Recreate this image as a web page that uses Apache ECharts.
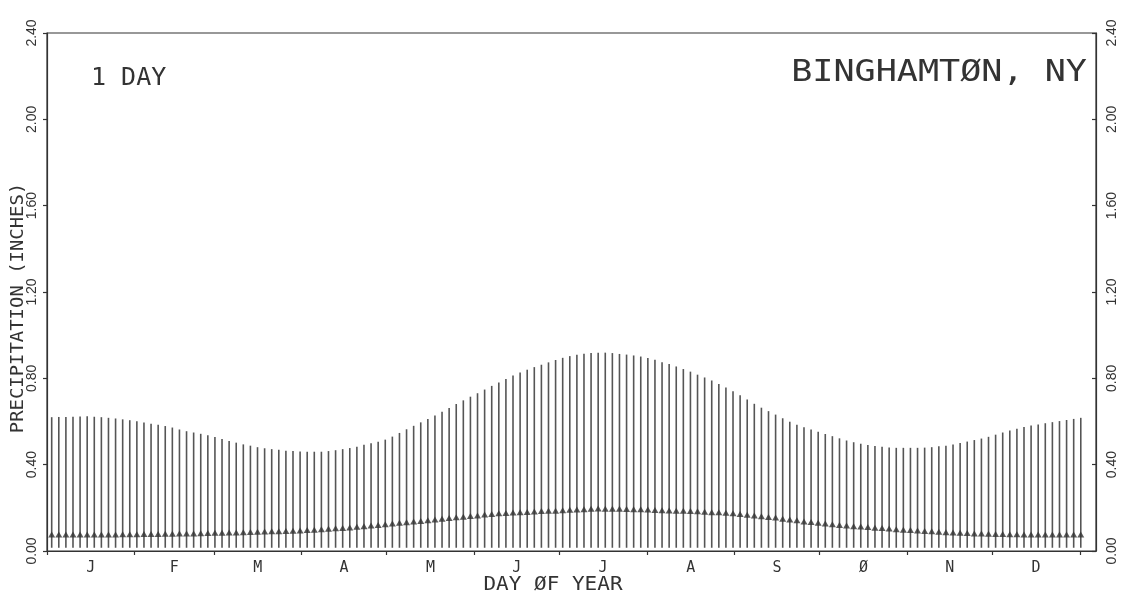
<!DOCTYPE html>
<html>
<head>
<meta charset="utf-8">
<script src="https://cdn.jsdelivr.net/npm/echarts@6/dist/echarts.min.js"></script>
<style>
  html, body { margin: 0; padding: 0; background: #fff; }
  #chart { width: 1125px; height: 601px; }
</style>
</head>
<body>
<div id="chart"></div>
<script>
// month boundaries (day of year) and labels
var monthStarts = [0, 31, 59, 90, 120, 151, 181, 212, 243, 273, 304, 334, 365];
var monthLabels = ['J', 'F', 'M', 'A', 'M', 'J', 'J', 'A', 'S', 'Ø', 'N', 'D'];
var yTicks = [0, 0.4, 0.8, 1.2, 1.6, 2.0, 2.4];

// one vertical line every ~2.5 days, starting early Jan
var firstDay = 1.66;
var dayStep = 2.508;
var lineBottom = 0.015;

// top of each line (inches)
var topInches = [
  0.620, 0.621, 0.621, 0.622, 0.623, 0.624, 0.622, 0.620, 0.617, 0.614,
  0.610, 0.606, 0.601, 0.595, 0.590, 0.585, 0.579, 0.572, 0.563, 0.555,
  0.549, 0.543, 0.536, 0.528, 0.519, 0.510, 0.502, 0.494, 0.488, 0.481,
  0.476, 0.472, 0.469, 0.465, 0.463, 0.461, 0.460, 0.460, 0.460, 0.463,
  0.467, 0.472, 0.477, 0.483, 0.492, 0.499, 0.506, 0.516, 0.530, 0.547,
  0.564, 0.580, 0.596, 0.612, 0.628, 0.645, 0.663, 0.681, 0.698, 0.715,
  0.731, 0.748, 0.765, 0.781, 0.797, 0.813, 0.827, 0.840, 0.852, 0.863,
  0.874, 0.885, 0.895, 0.903, 0.909, 0.914, 0.917, 0.919, 0.919, 0.917,
  0.913, 0.910, 0.906, 0.901, 0.894, 0.886, 0.875, 0.866, 0.855, 0.843,
  0.831, 0.817, 0.804, 0.790, 0.774, 0.758, 0.740, 0.722, 0.702, 0.682,
  0.664, 0.648, 0.632, 0.615, 0.599, 0.585, 0.573, 0.563, 0.552, 0.542,
  0.532, 0.522, 0.512, 0.504, 0.497, 0.491, 0.486, 0.483, 0.480, 0.478,
  0.478, 0.478, 0.478, 0.479, 0.481, 0.485, 0.488, 0.494, 0.500, 0.507,
  0.514, 0.521, 0.529, 0.539, 0.549, 0.558, 0.566, 0.574, 0.581, 0.586,
  0.592, 0.597, 0.602, 0.607, 0.612, 0.617
];

// marker on each line (inches)
var dotInches = [
  0.076, 0.076, 0.076, 0.076, 0.076, 0.076, 0.076, 0.076, 0.076, 0.077,
  0.078, 0.078, 0.078, 0.079, 0.079, 0.079, 0.080, 0.080, 0.081, 0.081,
  0.081, 0.082, 0.083, 0.084, 0.085, 0.086, 0.086, 0.087, 0.088, 0.089,
  0.090, 0.091, 0.092, 0.093, 0.094, 0.095, 0.097, 0.099, 0.101, 0.103,
  0.105, 0.107, 0.109, 0.112, 0.115, 0.118, 0.121, 0.124, 0.127, 0.131,
  0.133, 0.137, 0.139, 0.143, 0.146, 0.150, 0.153, 0.156, 0.159, 0.162,
  0.165, 0.169, 0.172, 0.175, 0.176, 0.178, 0.180, 0.181, 0.183, 0.185,
  0.186, 0.187, 0.189, 0.191, 0.192, 0.194, 0.196, 0.197, 0.196, 0.196,
  0.196, 0.195, 0.194, 0.193, 0.192, 0.190, 0.189, 0.188, 0.187, 0.186,
  0.185, 0.184, 0.182, 0.180, 0.179, 0.177, 0.175, 0.171, 0.168, 0.164,
  0.161, 0.157, 0.155, 0.150, 0.146, 0.142, 0.137, 0.134, 0.131, 0.127,
  0.124, 0.120, 0.118, 0.115, 0.113, 0.111, 0.108, 0.106, 0.104, 0.101,
  0.099, 0.097, 0.095, 0.093, 0.091, 0.089, 0.087, 0.086, 0.084, 0.083,
  0.081, 0.081, 0.080, 0.079, 0.079, 0.078, 0.078, 0.077, 0.077, 0.077,
  0.077, 0.076, 0.076, 0.076, 0.076, 0.076
];

var monthMids = []
for (var m = 0; m < 12; m++) {
    monthMids.push((monthStarts[m] + monthStarts[m + 1]) / 2)
}

var lineData = topInches.map(function (v, i) { return [firstDay + i * dayStep, v] })
var dotData = dotInches.map(function (v, i) { return [firstDay + i * dayStep, v] })

var ink = '#333'
var tickFont = 'Liberation Sans'
var plotFont = 'DejaVu Sans Mono'

var chart = echarts.init(document.getElementById('chart'))
chart.setOption({
    backgroundColor: '#fff',
    animation: false,
    grid: {
        left: 47, right: 29, top: 33, bottom: 50,
        show: true,
        borderColor: ink,
        borderWidth: 1.2
    },
    xAxis: {
        type: 'value',
        min: 0,
        max: 370.7,
        splitLine: { show: false },
        axisLine: { show: true, lineStyle: { color: ink, width: 1.2 } },
        axisTick: {
            show: true,
            customValues: monthStarts,
            length: 4,
            lineStyle: { color: ink, width: 1.2 }
        },
        axisLabel: {
            customValues: monthMids,
            margin: 10,
            fontFamily: plotFont,
            fontSize: 15,
            color: ink,
            formatter: function (val) {
                var idx = monthMids.indexOf(val)
                return idx >= 0 ? monthLabels[idx] : ''
            }
        }
    },
    yAxis: [
        {
            type: 'value',
            position: 'left',
            min: 0, max: 2.4, interval: 0.4,
            splitLine: { show: false },
            axisLine: { show: true, lineStyle: { color: ink, width: 1.2 } },
            axisTick: { show: true, length: 4, lineStyle: { color: ink, width: 1.2 } },
            axisLabel: {
                rotate: 90,
                margin: 8,
                fontFamily: tickFont,
                fontSize: 14,
                color: ink,
                formatter: function (v) { return v.toFixed(2) }
            }
        },
        {
            type: 'value',
            position: 'right',
            min: 0, max: 2.4, interval: 0.4,
            splitLine: { show: false },
            axisLine: { show: true, lineStyle: { color: ink, width: 1.2 } },
            axisTick: { show: true, inside: true, length: 4, lineStyle: { color: ink, width: 1.2 } },
            axisLabel: {
                rotate: 90,
                margin: 9,
                fontFamily: tickFont,
                fontSize: 14,
                color: ink,
                formatter: function (v) { return v.toFixed(2) }
            }
        }
    ],
    graphic: [
        {
            type: 'text', x: 91, y: 78,
            style: { text: '1 DAY', font: '25px "DejaVu Sans Mono"', fill: ink, textVerticalAlign: 'middle' }
        },
        {
            type: 'text', x: 1087, y: 73, scaleX: 1.17,
            style: { text: 'BINGHAMTØN, NY', font: '30px "DejaVu Sans Mono"', fill: ink, textAlign: 'right', textVerticalAlign: 'middle' }
        },
        {
            type: 'text', x: 553, y: 585, scaleX: 1.05,
            style: { text: 'DAY ØF YEAR', font: '20px "DejaVu Sans Mono"', fill: ink, textAlign: 'center', textVerticalAlign: 'middle' }
        },
        {
            type: 'text', x: 18, y: 308, rotation: Math.PI / 2, scaleX: 1.05,
            style: { text: 'PRECIPITATION (INCHES)', font: '18px "DejaVu Sans Mono"', fill: ink, textAlign: 'center', textVerticalAlign: 'middle' }
        }
    ],
    series: [
        {
            name: 'range',
            type: 'custom',
            data: lineData,
            renderItem: function (params, api) {
                var day = api.value(0)
                var lo = api.coord([day, lineBottom])
                var hi = api.coord([day, api.value(1)])
                return {
                    type: 'line',
                    shape: { x1: lo[0], y1: lo[1], x2: hi[0], y2: hi[1] },
                    style: { stroke: '#555', lineWidth: 1.6 }
                }
            }
        },
        {
            name: 'marker',
            type: 'scatter',
            data: dotData,
            symbol: 'triangle',
            symbolSize: [7, 6],
            itemStyle: { color: '#333' },
            z: 3
        }
    ]
})
</script>
</body>
</html>
